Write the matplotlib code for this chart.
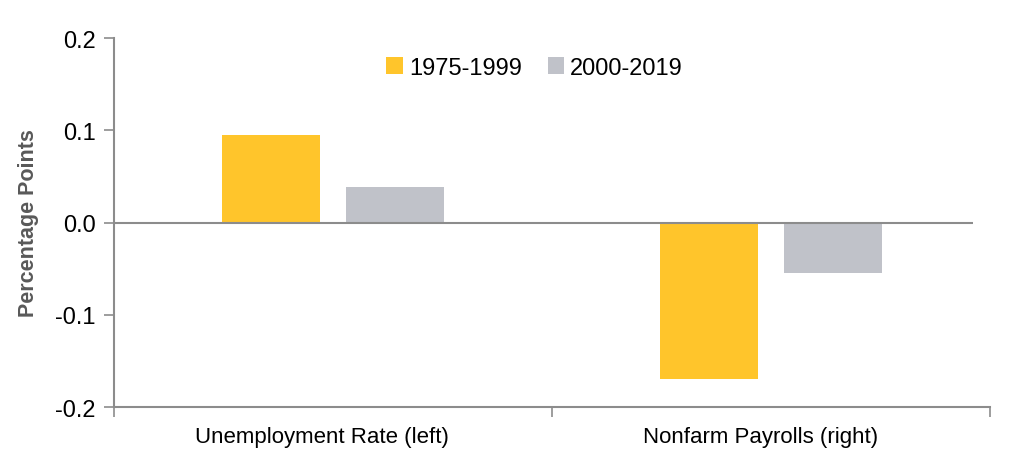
import matplotlib

matplotlib.use("Agg")
import matplotlib.pyplot as plt
import numpy as np
from matplotlib.patches import Patch

plt.rcParams["font.family"] = ["Liberation Sans", "DejaVu Sans"]

categories = ["Unemployment Rate (left)", "Nonfarm Payrolls (right)"]
series_names = ["1975-1999", "2000-2019"]
early = [0.095, -0.17]
late = [0.039, -0.055]
yticks = [-0.2, -0.1, 0.0, 0.1, 0.2]

YELLOW = "#FFC52B"
GRAY = "#C0C2C9"
AXIS = "#8C8C8C"

fig = plt.figure(figsize=(10.24, 4.6), dpi=100)
ax = fig.add_axes([0.1113, 0.113, 0.8557, 0.802])

centers = np.arange(len(categories)) + 0.5
width = 0.224
ax.bar(centers - 0.142, early, width, color=YELLOW, edgecolor="none", zorder=2)
ax.bar(centers + 0.142, late, width, color=GRAY, edgecolor="none", zorder=2)

# zero line stops a little short of the right end
ax.plot([0, 1.96], [0, 0], color=AXIS, linewidth=1.5, zorder=3, solid_capstyle="butt")

ax.set_xlim(0, 2)
ax.set_ylim(-0.2, 0.2)
ax.set_yticks(yticks)
ax.set_yticklabels([f"{v:.1f}" for v in yticks], fontsize=17)
ax.set_xticks([0, 1, 2])
ax.set_xticklabels([])
ax.set_xticks(centers - 0.025, minor=True)
ax.set_xticklabels(categories, minor=True, fontsize=16)
ax.tick_params(axis="x", which="minor", length=0, pad=14)
ax.tick_params(axis="x", which="major", length=7, color=AXIS, width=1.2)
ax.tick_params(axis="y", length=7, color=AXIS, width=1.2, pad=6)

for side in ["top", "right"]:
    ax.spines[side].set_visible(False)
for side in ["left", "bottom"]:
    ax.spines[side].set_color(AXIS)
    ax.spines[side].set_linewidth(1.5)

ax.set_ylabel("Percentage Points", fontsize=15.5, fontweight="bold", color="#595959", labelpad=12)

handles = [Patch(facecolor=YELLOW, edgecolor="none"), Patch(facecolor=GRAY, edgecolor="none")]
ax.legend(handles, series_names, loc="center", bbox_to_anchor=(0.48, 0.92), ncol=2,
          frameon=False, fontsize=17, handlelength=0.7, handleheight=0.7,
          handletextpad=0.25, columnspacing=1.1)

fig.savefig("out.png", dpi=100)
